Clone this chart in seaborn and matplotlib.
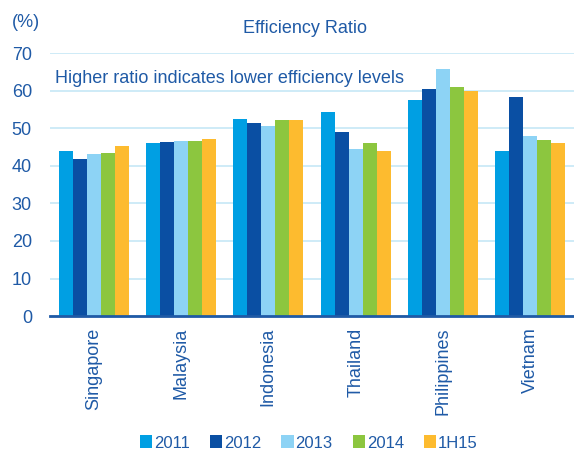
import numpy as np
import pandas as pd
import matplotlib
matplotlib.use("Agg")
import matplotlib.pyplot as plt
import seaborn as sns

countries = ["Singapore", "Malaysia", "Indonesia", "Thailand", "Philippines", "Vietnam"]
periods = ["2011", "2012", "2013", "2014", "1H15"]
ratio_2011 = [43.9, 46.0, 52.4, 54.4, 57.6, 43.9]
ratio_2012 = [41.8, 46.4, 51.5, 48.9, 60.5, 58.4]
ratio_2013 = [43.2, 46.6, 50.7, 44.6, 65.8, 48.0]
ratio_2014 = [43.4, 46.6, 52.2, 46.0, 61.0, 46.8]
ratio_1h15 = [45.3, 47.1, 52.1, 43.9, 59.8, 46.0]
colors = ["#009fe3", "#0a4fa3", "#8dd3f5", "#8cc63f", "#fdbb2f"]

txt = "#1f5aa6"

rows = []
for p, vals in zip(periods, [ratio_2011, ratio_2012, ratio_2013, ratio_2014, ratio_1h15]):
    for c, v in zip(countries, vals):
        rows.append({"country": c, "period": p, "ratio": v})
df = pd.DataFrame(rows)

sns.set_style("white")
plt.rcParams['font.family'] = ['Liberation Sans', 'DejaVu Sans']

fig = plt.figure(figsize=(5.74, 4.53), dpi=100)
ax = fig.add_axes([0.087, 0.302, 0.913, 0.581])

sns.barplot(data=df, x="country", y="ratio", hue="period", order=countries,
            hue_order=periods, palette=colors, width=0.8, saturation=1,
            linewidth=0, ax=ax, legend=True)

ax.set_ylim(0, 70)
ax.set_xlim(-0.5, 5.5)
ax.set_yticks(range(0, 71, 10))
ax.yaxis.grid(True, color="#c6e7f6", linewidth=1.2)
ax.set_axisbelow(True)
for s in ["top", "right", "left"]:
    ax.spines[s].set_visible(False)
ax.spines["bottom"].set_color(txt)
ax.spines["bottom"].set_linewidth(2)

ax.set_xticks(range(len(countries)))
ax.set_xticklabels(countries, rotation=90, color=txt, fontsize=13)
ax.set_xticks(np.arange(-0.5, 6, 1), minor=True)
ax.tick_params(axis="x", which="major", length=0, pad=8)
ax.tick_params(axis="x", which="minor", length=5, width=1.2, color=txt, direction="out")
ax.tick_params(axis="y", length=0, labelsize=13, labelcolor=txt, pad=13)
ax.set_xlabel("")
ax.set_ylabel("")

fig.text(0.045, 0.95, "(%)", color=txt, fontsize=13, ha="center", va="center")
fig.text(0.532, 0.937, "Efficiency Ratio", color=txt, fontsize=13, ha="center", va="center")
ax.text(0.01, 0.905, "Higher ratio indicates lower efficiency levels", transform=ax.transAxes,
        color=txt, fontsize=13, ha="left", va="center")

handles, labels = ax.get_legend_handles_labels()
ax.legend_.remove()
fig.legend(handles, labels, loc="center", bbox_to_anchor=(0.538, 0.022), ncol=5, frameon=False,
           handlelength=0.75, handleheight=0.8, handletextpad=0.1, columnspacing=1.2,
           fontsize=12, labelcolor=txt)

fig.savefig("out.png", dpi=100)
